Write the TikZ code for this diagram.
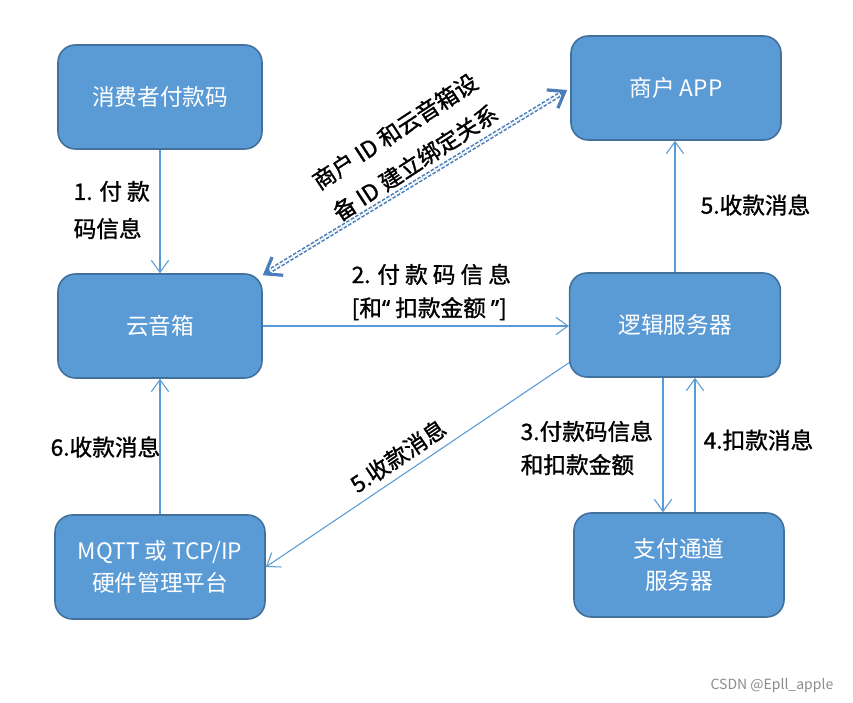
\documentclass[tikz,border=0pt]{standalone}
\usepackage{fontspec}
\setmainfont{Noto Sans CJK SC}
\newfontfamily\labelfont[FakeBold=1.2]{Noto Sans CJK SC}
\newfontfamily\quotefont[FakeBold=1.2]{Noto Sans}
\usetikzlibrary{calc,arrows.meta}
\definecolor{boxblue}{HTML}{5B9BD5}
\definecolor{boxedge}{HTML}{41719C}
\definecolor{lineblue}{HTML}{5B9BD5}
\definecolor{linkblue}{HTML}{4A7EBB}
\def\bluebox{\node[rounded corners=13pt,fill=boxblue,draw=boxedge,line width=1.2pt,text=white,minimum height=78pt,align=center,font=\fontsize{17}{24}\selectfont]}
\def\drawflow{\draw[color=lineblue,line width=0.8pt,-{Straight Barb[length=9pt,width=13pt]}]}
\def\drawlink{\draw[color=linkblue,line width=1.2pt,double=white,double distance=1.4pt,dash pattern=on 2.6pt off 1.3pt]}
\def\drawtip{\draw[color=linkblue,line width=2.4pt,-{Straight Barb[length=11pt,width=16pt]}]}
\def\flowlabel{\node[anchor=west,align=left,font=\labelfont\fontsize{17}{25}\selectfont]}

\begin{document}
\begin{tikzpicture}[x=0.75pt,y=-0.75pt]
\fill[white] (0,0) rectangle (853,703);
\useasboundingbox (0,0) rectangle (853,703);
\bluebox[minimum width=153pt] (payer) at (160,97) {消费者付款码};
\bluebox[minimum width=157.5pt] (app) at (676,88) {商户 APP};
\bluebox[minimum width=153pt] (speaker) at (160,326) {云音箱};
\bluebox[minimum width=158pt] (logic) at (675,325) {逻辑服务器};
\bluebox[minimum width=157.5pt] (mqtt) at (160,567) {MQTT 或 TCP/IP\\硬件管理平台};
\bluebox[minimum width=157.5pt] (channel) at (679,565) {支付通道\\服务器};
\coordinate (down) at ($(logic.south)+(-12,0)$);
\coordinate (up) at ($(logic.south)+(20,0)$);
\coordinate (leave) at ($(logic.south west)+(0,-15)$);
\coordinate (bindl) at ($(speaker.north east)+(0,2)$);
\coordinate (bindr) at ($(app.west)+(-3,2)$);
\drawflow (payer) -- (speaker);
\drawflow (speaker.east) -- (speaker.east -| logic.west);
\drawflow (down) -- (down |- channel.north);
\drawflow (up |- channel.north) -- (up);
\drawflow (logic.north) -- (logic.north |- app.south);
\drawflow (leave) -- (mqtt.east);
\drawflow (mqtt) -- (speaker);
\drawlink ($(bindl)!4pt!(bindr)$) -- ($(bindr)!4pt!(bindl)$);
\drawtip ($(bindl)!6pt!(bindr)$) -- (bindl);
\drawtip ($(bindr)!6pt!(bindl)$) -- (bindr);
\flowlabel[font=\labelfont\fontsize{17}{28}\selectfont] (l1) at (69,210) {1. 付 款\\码信息};
\flowlabel (l2) at (347,292) {2. 付 款 码 信 息\\{[}和{\quotefont“} 扣款金额 {\quotefont”}{]}};
\flowlabel (l3) at (516,448) {3.付款码信息\\和扣款金额};
\flowlabel (l4) at (699,440) {4.扣款消息};
\flowlabel (l5) at (696,205) {5.收款消息};
\flowlabel (l6) at (46,447) {6.收款消息};
\node[rotate=34,font=\labelfont\fontsize{17}{25}\selectfont] (l5b) at (398,456) {5.收款消息};
\node[rotate=33,align=center,font=\labelfont\fontsize{17}{28}\selectfont] (bind) at (405,147) {商户 ID 和云音箱设\\备 ID 建立绑定关系};
\node[anchor=east,text=black!45,font=\fontsize{10.5}{12}\selectfont] (mark) at (838,686) {CSDN @Epll\_apple};
\end{tikzpicture}
\end{document}
